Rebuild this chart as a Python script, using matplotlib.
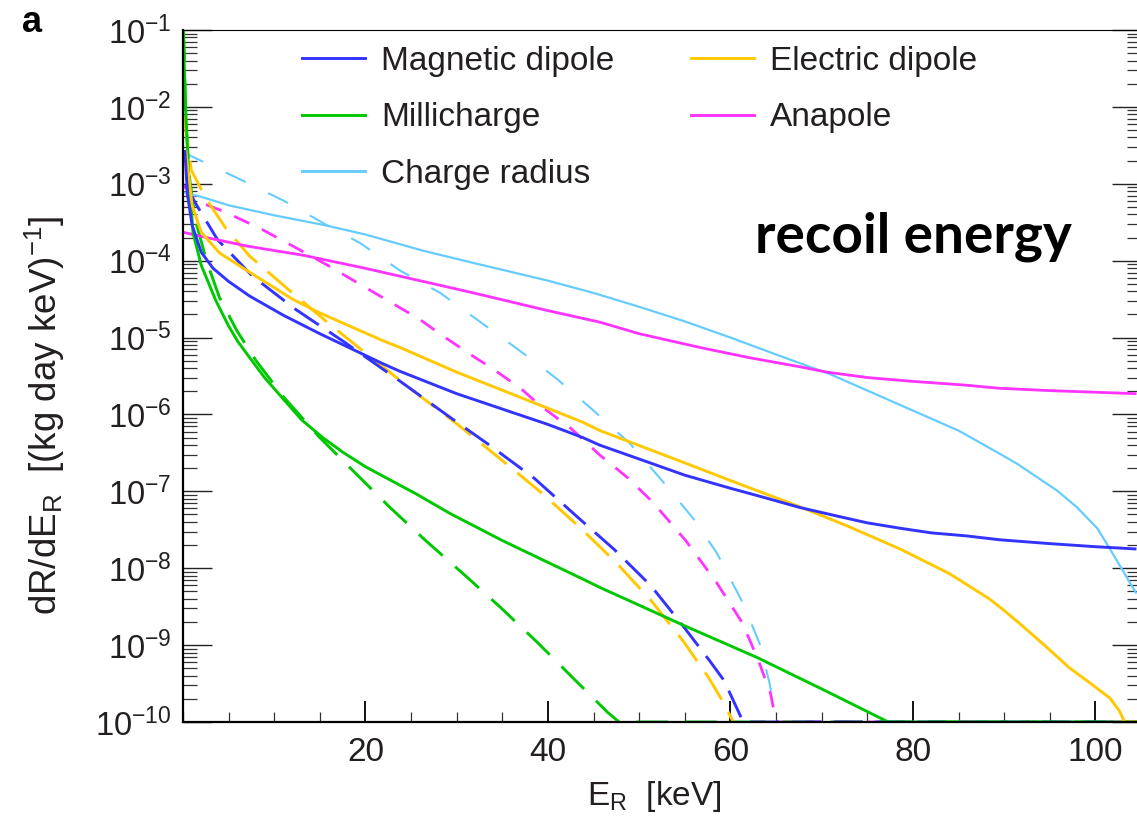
import numpy as np
import matplotlib
matplotlib.use('Agg')
import matplotlib.pyplot as plt
from matplotlib.lines import Line2D
from matplotlib.ticker import FixedLocator, MultipleLocator, LogLocator, FuncFormatter, NullFormatter

plt.rcParams['font.family'] = ['Liberation Sans', 'DejaVu Sans']
plt.rcParams['mathtext.fontset'] = 'custom'
plt.rcParams['mathtext.rm'] = 'Liberation Sans'
plt.rcParams['mathtext.it'] = 'Liberation Sans:italic'
plt.rcParams['mathtext.bf'] = 'Liberation Sans:bold'
plt.rcParams['lines.scale_dashes'] = False

# recoil energy [keV] and log10(dR/dE_R)
# solid curves
md_e = [0.2, 0.5, 1, 2, 3.3, 5, 7.3, 11, 15, 21.9, 23.8, 30, 40, 43.8, 45.7, 50, 55, 60, 64, 67.6, 72, 75, 78.6, 82,
        85.9, 89.5, 95, 100, 104.5]
md_log = [-2.56, -3.15, -3.54, -3.89, -4.10, -4.27, -4.46, -4.71, -4.95, -5.34, -5.44, -5.73, -6.13, -6.30, -6.40,
          -6.58, -6.79, -6.96, -7.09, -7.21, -7.33, -7.41, -7.48, -7.54, -7.58, -7.63, -7.68, -7.72, -7.75]

ed_e = [0.3, 1, 2, 4, 7.3, 12, 15, 21.9, 23.8, 30, 40, 43.8, 45.7, 55, 60, 67.6, 73, 78.6, 84, 88.4, 90, 92, 94.5,
        97.1, 99.5, 101.6, 102.6, 103.2, 105]
ed_log = [-2.56, -3.28, -3.63, -3.90, -4.15, -4.50, -4.68, -5.04, -5.13, -5.45, -5.92, -6.10, -6.21, -6.63, -6.86,
          -7.20, -7.46, -7.75, -8.07, -8.40, -8.55, -8.75, -9.01, -9.29, -9.50, -9.69, -9.85, -10.0, -10.0]

mc_e = [0.05, 0.15, 0.3, 0.6, 1.1, 2, 3.6, 5, 6, 7.3, 9, 11, 13, 15.3, 17.5, 20, 25.5, 29.3, 35, 43.8, 45.7, 55, 62.9,
        70, 77.3, 105]
mc_log = [-1.0, -1.52, -2.04, -2.82, -3.64, -4.06, -4.52, -4.85, -5.05, -5.26, -5.53, -5.80, -6.07, -6.30, -6.49,
          -6.68, -7.03, -7.29, -7.64, -8.14, -8.25, -8.75, -9.16, -9.57, -10.0, -10.0]

an_e = [0, 3, 7, 13.2, 20, 31.5, 40, 45.7, 50, 56.7, 62, 67.6, 70.6, 75, 80, 85.9, 89.5, 95, 104.5]
an_log = [-3.63, -3.71, -3.81, -3.93, -4.10, -4.41, -4.65, -4.80, -4.95, -5.13, -5.26, -5.38, -5.45, -5.52, -5.57,
          -5.62, -5.66, -5.69, -5.73]

cr_e = [0, 2, 5, 10, 15.6, 20, 26.3, 31.5, 40, 45, 50, 55, 60, 65, 71, 80, 85, 89.5, 91.4, 95.8, 98, 100.2, 101.6,
        103, 104.5]
cr_log = [-3.11, -3.17, -3.28, -3.41, -3.54, -3.66, -3.87, -4.02, -4.26, -4.42, -4.60, -4.79, -5.00, -5.22, -5.48,
          -5.95, -6.21, -6.51, -6.64, -6.99, -7.21, -7.48, -7.75, -8.03, -8.33]

# dashed curves
mdd_e = [0.3, 1.5, 3.8, 7.6, 12.3, 17.7, 23.7, 29.3, 33.6, 38.5, 43.1, 47.3, 51.3, 54.8, 57.7, 59.3, 61.4, 105]
mdd_log = [-3.02, -3.28, -3.73, -4.20, -4.63, -5.06, -5.56, -6.04, -6.40, -6.83, -7.32, -7.76, -8.23, -8.75, -9.20,
           -9.46, -10.0, -10.0]

edd_e = [0.1, 0.9, 2.5, 4.7, 7.3, 11.5, 15.7, 20.3, 25.2, 30.1, 34.9, 39.3, 43.5, 47.5, 51.3, 54.9, 57.7, 59.3, 60.3]
edd_log = [-2.11, -2.82, -3.19, -3.58, -3.94, -4.37, -4.79, -5.23, -5.69, -6.13, -6.59, -7.02, -7.47, -7.93, -8.42,
           -8.96, -9.44, -9.76, -10.0]

mcd_e = [0.05, 0.1, 0.3, 0.7, 1.35, 2.6, 4, 5.9, 8, 11, 14.9, 18.7, 22.6, 26.5, 30.6, 34.8, 38.8, 42.6, 46.5, 47.8, 105]
mcd_log = [-1.0, -1.2, -2.17, -2.91, -3.47, -4.01, -4.48, -4.91, -5.30, -5.77, -6.29, -6.74, -7.20, -7.63, -8.06,
           -8.51, -8.96, -9.41, -9.87, -10.0, -10.0]

and_e = [0, 1.8, 4.5, 8.6, 12.5, 16, 20.3, 22.6, 25.9, 28.5, 31.5, 34, 37, 39, 42.5, 45.7, 48.7, 51.4, 55.1, 58.5,
         61.3, 63, 64.4, 65.0, 105]
and_log = [-3.02, -3.24, -3.36, -3.59, -3.84, -4.07, -4.37, -4.53, -4.76, -4.98, -5.22, -5.41, -5.66, -5.87, -6.18,
           -6.53, -6.82, -7.13, -7.64, -8.19, -8.71, -9.18, -9.63, -10.0, -10.0]

crd_e = [0, 6.4, 11.2, 15.8, 19.4, 23.8, 28.2, 32.5, 36.9, 40.9, 45, 49, 52.5, 55.9, 58.5, 61.4, 63.2, 64.3, 64.8]
crd_log = [-2.59, -2.95, -3.23, -3.54, -3.77, -4.13, -4.42, -4.79, -5.17, -5.53, -5.95, -6.38, -6.86, -7.35, -7.80,
           -8.46, -8.98, -9.50, -9.85]

BLUE = '#3333ff'
GOLD = '#ffc800'
GREEN = '#00c800'
MAGENTA = '#ff33ff'
LBLUE = '#66ccff'
TEXT = '#231f20'

fig = plt.figure(figsize=(11.37, 8.18), dpi=100)
ax = fig.add_axes([183 / 1137, 96 / 818, 958 / 1137, 692 / 818])


def draw(e, logv, color, lw, dashes=None):
    kw = dict(color=color, lw=lw, solid_capstyle='butt', dash_capstyle='butt', solid_joinstyle='round')
    if dashes is not None:
        kw['linestyle'] = (0, dashes)
    ax.plot(e, 10.0 ** np.array(logv), **kw)


# dashed first, solid on top
draw(crd_e, crd_log, LBLUE, 1.5, (16, 18))
draw(and_e, and_log, MAGENTA, 2.0, (12, 10))
draw(mcd_e, mcd_log, GREEN, 2.1, (23, 12))
draw(edd_e, edd_log, GOLD, 2.1, (23, 10))
draw(mdd_e, mdd_log, BLUE, 2.1, (21, 9))

draw(cr_e, cr_log, LBLUE, 1.6)
draw(an_e, an_log, MAGENTA, 2.0)
draw(mc_e, mc_log, GREEN, 2.1)
draw(ed_e, ed_log, GOLD, 2.1)
draw(md_e, md_log, BLUE, 2.1)

ax.set_yscale('log')
ax.set_xlim(0, 105)
ax.set_ylim(1e-10, 1e-1)

ax.xaxis.set_major_locator(FixedLocator([20, 40, 60, 80, 100]))
ax.xaxis.set_minor_locator(MultipleLocator(5))
ax.yaxis.set_major_locator(LogLocator(base=10, numticks=20))
ax.yaxis.set_minor_locator(LogLocator(base=10, subs=np.arange(2, 10), numticks=100))
ax.yaxis.set_minor_formatter(NullFormatter())
ax.yaxis.set_major_formatter(FuncFormatter(lambda v, p: r'$\mathregular{10^{%d}}$' % round(np.log10(v))))

ax.tick_params(axis='y', which='major', direction='in', left=True, right=True, length=21, width=1.0,
               labelsize=23.5, pad=8, colors='#222222')
ax.tick_params(axis='y', which='minor', direction='in', left=True, right=True, length=10, width=0.9,
               colors='#333333')
ax.tick_params(axis='x', which='major', direction='in', top=False, bottom=True, length=15, width=1.4,
               labelsize=24, pad=11, colors='#111111')
ax.tick_params(axis='x', which='minor', direction='in', top=False, bottom=True, length=7.5, width=0.9,
               colors='#333333')
for lab in ax.get_xticklabels() + ax.get_yticklabels():
    lab.set_color(TEXT)

ax.spines['left'].set_linewidth(1.6)
ax.spines['bottom'].set_linewidth(1.6)
ax.spines['top'].set_linewidth(0.8)
ax.spines['right'].set_linewidth(0.8)

handles = [Line2D([], [], color=BLUE, lw=2.1), Line2D([], [], color=GREEN, lw=2.1),
           Line2D([], [], color=LBLUE, lw=2.1), Line2D([], [], color=GOLD, lw=2.1),
           Line2D([], [], color=MAGENTA, lw=2.1)]
labels = ['Magnetic dipole', 'Millicharge', 'Charge radius', 'Electric dipole', 'Anapole']
leg = ax.legend(handles, labels, ncol=2, loc='upper left', bbox_to_anchor=(0.1242, 0.977), frameon=False,
                fontsize=24, borderpad=0, borderaxespad=0, handlelength=1.9, handletextpad=0.48,
                labelspacing=0.76, columnspacing=2.29)
for t in leg.get_texts():
    t.set_color(TEXT)

fig.text(755 / 1137, 1 - 253 / 818, 'recoil energy', fontsize=39.5, fontweight='bold',
         family=['Lato', 'DejaVu Sans'], va='baseline', ha='left')
fig.text(22 / 1137, 1 - 32 / 818, 'a', fontsize=26, fontweight='bold', va='baseline', ha='left')
fig.text(587 / 1137, 13 / 818, r'E$_{\mathregular{R}}$  [keV]', fontsize=24, va='baseline', ha='left',
         color=TEXT)
fig.text(45 / 1137, 1 - 415 / 818, r'dR/dE$_{\mathregular{R}}$  [(kg day keV)$^{\mathregular{-1}}$]',
         fontsize=26.5, rotation=90, va='center', ha='center', color=TEXT)

fig.savefig('out.png', dpi=100)
